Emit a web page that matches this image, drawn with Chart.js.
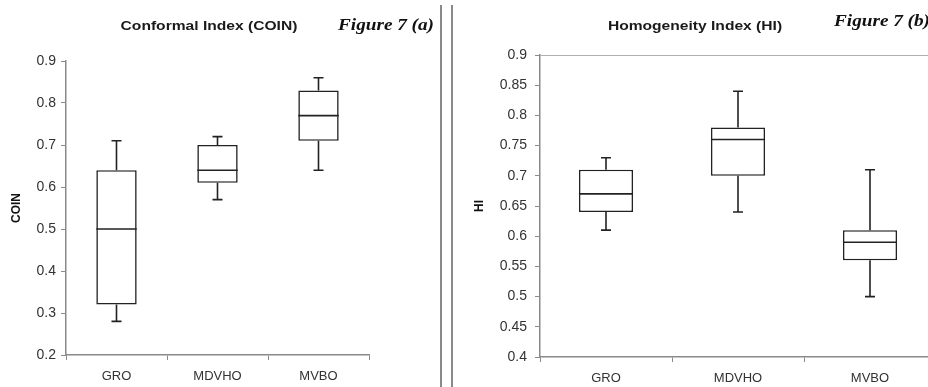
<!DOCTYPE html>
<html>
<head>
<meta charset="utf-8">
<script src="https://cdn.jsdelivr.net/npm/chart.js@4/dist/chart.umd.min.js"></script>
<style>
  html, body { margin: 0; padding: 0; background: #fff; overflow: hidden; }
  #wrap { position: relative; width: 928px; height: 387px; overflow: hidden; }
  canvas { position: absolute; top: 0; }
  .title { position: absolute; font: bold 13px "Liberation Sans", Arial, sans-serif; color: #1a1a1a;
           white-space: nowrap; transform: translate(-50%, -50%) scaleX(1.2); }
  .fig { position: absolute; font: bold italic 16px "Liberation Serif", "Times New Roman", serif;
         color: #111; white-space: nowrap; transform-origin: left center; transform: translateY(-50%) scaleX(1.2); }
  .sep { position: absolute; top: 5px; bottom: 0; width: 1.5px; background: #8a8a8a; }
</style>
</head>
<body>
<div id="wrap">
  <canvas id="coinChart" width="441" height="387" style="left:0"></canvas>
  <canvas id="hiChart" width="484" height="387" style="left:453px"></canvas>
  <div class="title" style="left:209px;top:25px">Conformal Index (COIN)</div>
  <div class="fig" style="left:338px;top:25px">Figure 7 (a)</div>
  <div class="title" style="left:695px;top:25px">Homogeneity Index (HI)</div>
  <div class="fig" style="left:834px;top:21px">Figure 7 (b)</div>
  <div class="sep" style="left:440px"></div>
  <div class="sep" style="left:451px"></div>
</div>

<script>
// ======== Data ========
const categories = ["GRO", "MDVHO", "MVBO"];

// Conformal Index (COIN)
const coinMin = [0.28, 0.57, 0.64];
const coinQ1 = [0.32, 0.61, 0.71];
const coinMedian = [0.5, 0.64, 0.77];
const coinQ3 = [0.64, 0.7, 0.83];
const coinMax = [0.71, 0.72, 0.86];
const coinTicks = [0.2, 0.3, 0.4, 0.5, 0.6, 0.7, 0.8, 0.9];

// Homogeneity Index (HI)
const hiMin = [0.61, 0.64, 0.5];
const hiQ1 = [0.64, 0.7, 0.56];
const hiMedian = [0.67, 0.76, 0.59];
const hiQ3 = [0.71, 0.78, 0.61];
const hiMax = [0.73, 0.84, 0.71];
const hiTicks = [0.4, 0.45, 0.5, 0.55, 0.6, 0.65, 0.7, 0.75, 0.8, 0.85, 0.9];

// -------------------------
// Median line + whiskers on top of the floating bars
// -------------------------
const boxWhiskers = {
  id: "boxWhiskers",
  afterDatasetsDraw(chart, args, opts) {
    const ctx = chart.ctx;
    const y = chart.scales.y;
    const meta = chart.getDatasetMeta(0);
    ctx.save();
    ctx.strokeStyle = "#222";
    ctx.lineWidth = 1.6;
    meta.data.forEach((bar, i) => {
      const x = bar.x;
      const half = bar.width / 2;
      const yMin = y.getPixelForValue(opts.min[i]);
      const yQ1 = y.getPixelForValue(opts.q1[i]);
      const yMed = y.getPixelForValue(opts.median[i]);
      const yQ3 = y.getPixelForValue(opts.q3[i]);
      const yMax = y.getPixelForValue(opts.max[i]);
      ctx.beginPath();
      ctx.moveTo(x - half, yMed);
      ctx.lineTo(x + half, yMed);
      ctx.moveTo(x, yQ3);
      ctx.lineTo(x, yMax);
      ctx.moveTo(x - 5, yMax);
      ctx.lineTo(x + 5, yMax);
      ctx.moveTo(x, yQ1);
      ctx.lineTo(x, yMin);
      ctx.moveTo(x - 5, yMin);
      ctx.lineTo(x + 5, yMin);
      ctx.stroke();
    });
    ctx.restore();
  },
};

function makeBoxChart(id, stats, ticks, axisTitle, cfg) {
  const minV = ticks[0];
  const maxV = ticks[ticks.length - 1];
  return new Chart(document.getElementById(id).getContext("2d"), {
    type: "bar",
    data: {
      labels: categories,
      datasets: [
        {
          data: categories.map((_, i) => [stats.q1[i], stats.q3[i]]),
          backgroundColor: "#fff",
          borderColor: "#222",
          borderWidth: 1.6,
          borderSkipped: false,
          barPercentage: cfg.barPct,
          categoryPercentage: 1,
        },
      ],
    },
    options: {
      responsive: false,
      animation: false,
      layout: { padding: cfg.padding },
      plugins: {
        legend: { display: false },
        tooltip: { enabled: false },
        boxWhiskers: stats,
      },
      scales: {
        x: {
          grid: {
            offset: true,
            drawOnChartArea: false,
            tickLength: 5,
            tickColor: "#8a8a8a",
          },
          border: { color: "#8a8a8a", width: 1.5 },
          ticks: {
            color: "#333",
            padding: 9,
            font: { family: "'Liberation Sans', Arial, sans-serif", size: 13 },
          },
          afterFit: (s) => { s.height = cfg.xHeight; },
        },
        y: {
          min: minV,
          max: maxV,
          afterBuildTicks: (s) => { s.ticks = ticks.map((v) => ({ value: v })); },
          grid: {
            drawOnChartArea: cfg.topLine,
            color: (c) => (c.tick && c.tick.value === maxV ? "#b0b0b0" : "rgba(0,0,0,0)"),
            tickLength: 5,
            tickColor: "#8a8a8a",
          },
          border: { color: "#8a8a8a", width: 1.5 },
          ticks: {
            color: "#333",
            padding: cfg.tickPad,
            font: { family: "'Liberation Sans', Arial, sans-serif", size: 14 },
            callback: (v) => String(v),
          },
          title: {
            display: true,
            text: axisTitle,
            color: "#111",
            padding: { top: cfg.titlePad, bottom: 0 },
            font: { family: "'Liberation Sans', Arial, sans-serif", size: 12, weight: "bold" },
          },
          afterFit: (s) => { s.width = cfg.yWidth; },
        },
      },
    },
    plugins: [boxWhiskers],
  });
}

makeBoxChart(
  "coinChart",
  { min: coinMin, q1: coinQ1, median: coinMedian, q3: coinQ3, max: coinMax },
  coinTicks,
  "COIN",
  { padding: { left: 0, top: 61, right: 72, bottom: 0 }, xHeight: 32, yWidth: 66, barPct: 0.4, titlePad: 9, tickPad: 5, topLine: false }
);

makeBoxChart(
  "hiChart",
  { min: hiMin, q1: hiQ1, median: hiMedian, q3: hiQ3, max: hiMax },
  hiTicks,
  "HI",
  { padding: { left: 0, top: 55, right: 1, bottom: 0 }, xHeight: 30, yWidth: 87, barPct: 0.41, titlePad: 19, tickPad: 8, topLine: true }
);
</script>
</body>
</html>
